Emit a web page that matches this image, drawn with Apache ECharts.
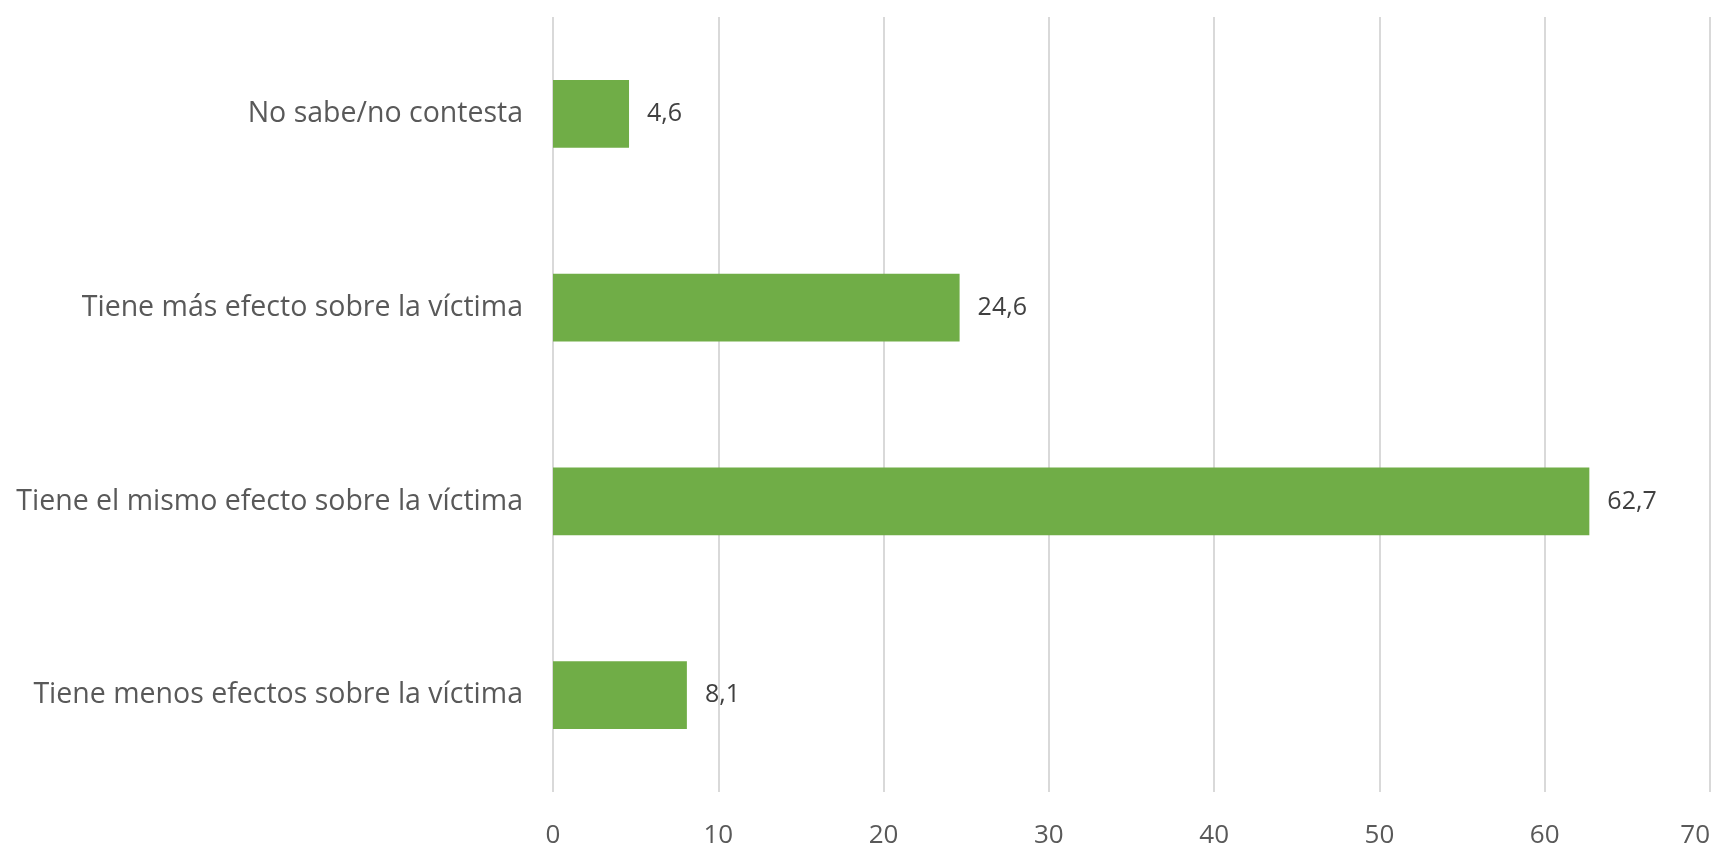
<!DOCTYPE html>
<html>
<head>
<meta charset="utf-8">
<script src="https://cdn.jsdelivr.net/npm/echarts@6/dist/echarts.min.js"></script>
<style>
  html, body { margin: 0; padding: 0; background: #fff; }
  #chart { width: 1731px; height: 849px; }
</style>
</head>
<body>
<div id="chart"></div>
<script>
  // categorías, de abajo hacia arriba
  var categorias = [
    'Tiene menos efectos sobre la víctima',
    'Tiene el mismo efecto sobre la víctima',
    'Tiene más efecto sobre la víctima',
    'No sabe/no contesta'
  ]
  var valores = [8.1, 62.7, 24.6, 4.6]
  var ticks = [0, 10, 20, 30, 40, 50, 60, 70]

  var fuente = '"Open Sans", sans-serif'

  var myChart = echarts.init(document.getElementById('chart'))
  var option = {
    animation: false,
    grid: {
      left: 553,
      right: 21,
      top: 17,
      bottom: 56
    },
    xAxis: {
      type: 'value',
      min: ticks[0],
      max: ticks[ticks.length - 1],
      interval: 10,
      axisLine: { show: false },
      axisTick: { show: false },
      splitLine: { lineStyle: { color: '#d9d9d9', width: 2 } },
      axisLabel: {
        color: '#595959',
        fontFamily: fuente,
        fontSize: 26,
        margin: 31,
        alignMaxLabel: 'right'
      }
    },
    yAxis: {
      type: 'category',
      data: categorias,
      axisLine: { show: false },
      axisTick: { show: false },
      axisLabel: {
        color: '#595959',
        fontFamily: fuente,
        fontSize: 28.5,
        margin: 30
      }
    },
    series: [{
      type: 'bar',
      data: valores,
      barCategoryGap: '65%',
      itemStyle: { color: '#70ad47' },
      label: {
        show: true,
        position: 'right',
        distance: 18,
        color: '#404040',
        fontFamily: fuente,
        fontSize: 25,
        formatter: function (p) {
          return String(p.value).replace('.', ',')
        }
      }
    }]
  }
  myChart.setOption(option)
</script>
</body>
</html>
